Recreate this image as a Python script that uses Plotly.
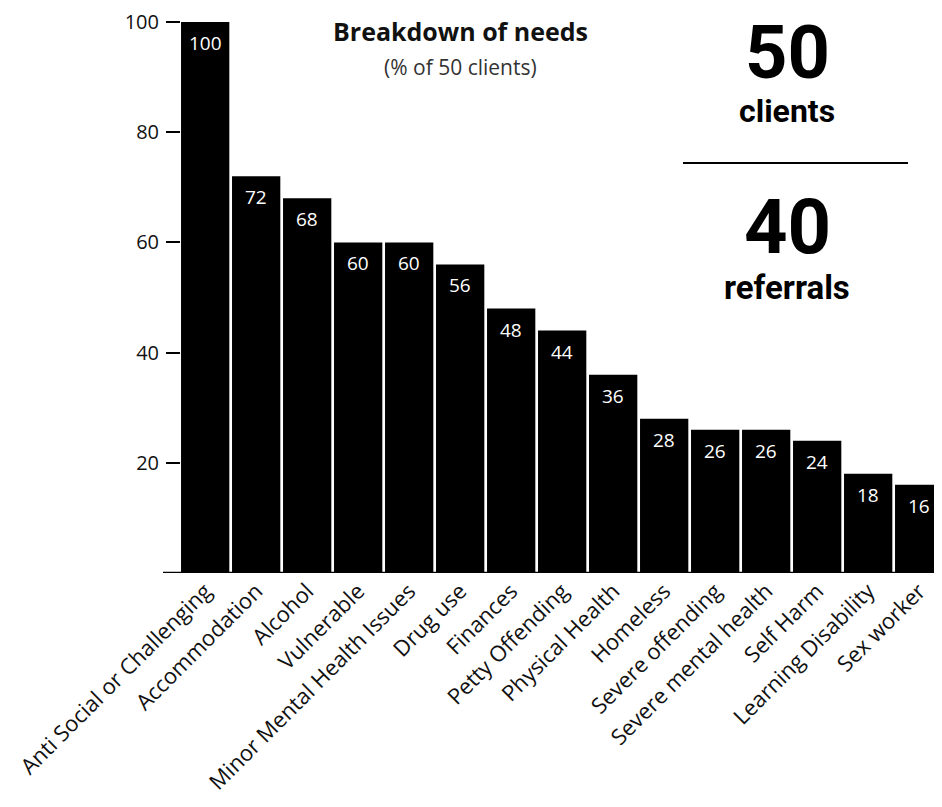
import plotly.graph_objects as go

categories = ["Anti Social or Challenging", "Accommodation", "Alcohol", "Vulnerable",
              "Minor Mental Health Issues", "Drug use", "Finances", "Petty Offending",
              "Physical Health", "Homeless", "Severe offending", "Severe mental health",
              "Self Harm", "Learning Disability", "Sex worker"]
values = [100, 72, 68, 60, 60, 56, 48, 44, 36, 28, 26, 26, 24, 18, 16]
y_ticks = [20, 40, 60, 80, 100]

# page has an 8px body margin; positions below are screen pixels of the reference
OFF = 8
W, H = 942, 807
ML, MR, MT, MB = 181 - OFF, OFF, 22 - OFF, H - (573 - OFF)
PW = W - ML - MR
PH = H - MT - MB

def px(xp):
    return (xp - OFF - ML) / PW

def py(yp):
    return (H - MB - (yp - OFF)) / PH

FONT = "Open Sans"
BIG = "Roboto"

fig = go.Figure()
fig.add_trace(go.Bar(x=categories, y=values, marker=dict(color="black", line=dict(width=0)),
                     hoverinfo="x+y"))

ann = []
for c, v in zip(categories, values):
    ann.append(dict(x=c, y=v, xref="x", yref="y", text=str(v), showarrow=False,
                    yanchor="top", yshift=-6,
                    font=dict(family=FONT, size=19, color="white")))

ann += [
    dict(x=px(460), y=py(31), xref="paper", yref="paper", text="<b>Breakdown of needs</b>",
         showarrow=False, xanchor="center", yanchor="middle",
         font=dict(family=FONT, size=25, color="#111")),
    dict(x=px(460), y=py(67), xref="paper", yref="paper", text="(% of 50 clients)",
         showarrow=False, xanchor="center", yanchor="middle",
         font=dict(family=FONT, size=21, color="#333")),
    dict(x=px(787), y=py(53), xref="paper", yref="paper", text="<b>50</b>",
         showarrow=False, xanchor="center", yanchor="middle",
         font=dict(family=BIG, size=74, color="black")),
    dict(x=px(787), y=py(111), xref="paper", yref="paper", text="<b>clients</b>",
         showarrow=False, xanchor="center", yanchor="middle",
         font=dict(family=BIG, size=32, color="black")),
    dict(x=px(787), y=py(227), xref="paper", yref="paper", text="<b>40</b>",
         showarrow=False, xanchor="center", yanchor="middle",
         font=dict(family=BIG, size=76, color="black")),
    dict(x=px(787), y=py(287), xref="paper", yref="paper", text="<b>referrals</b>",
         showarrow=False, xanchor="center", yanchor="middle",
         font=dict(family=BIG, size=33, color="black")),
]

shapes = [
    dict(type="line", xref="paper", yref="paper", x0=px(683), x1=px(908), y0=py(163), y1=py(163),
         line=dict(color="black", width=2)),
    dict(type="line", xref="paper", yref="y", x0=px(163), x1=1, y0=0, y1=0,
         line=dict(color="black", width=2.5)),
]

fig.update_layout(
    width=W, height=H,
    margin=dict(l=ML, r=MR, t=MT, b=MB, autoexpand=False),
    paper_bgcolor="white", plot_bgcolor="white",
    bargap=0.053,
    showlegend=False,
    annotations=ann,
    shapes=shapes,
    xaxis=dict(range=[-0.474, -0.474 + PW / 51.0], showline=False, showgrid=False,
               zeroline=False, ticks="", tickangle=-45, automargin=False,
               tickfont=dict(family=FONT, size=22, color="#111")),
    yaxis=dict(range=[0, 100], tickvals=y_ticks, showgrid=False, zeroline=False,
               showline=False, ticks="outside", ticklen=14, tickwidth=2, tickcolor="black",
               ticklabelstandoff=3, automargin=False,
               tickfont=dict(family=FONT, size=20, color="#111")),
)

fig.write_html("out.html")
